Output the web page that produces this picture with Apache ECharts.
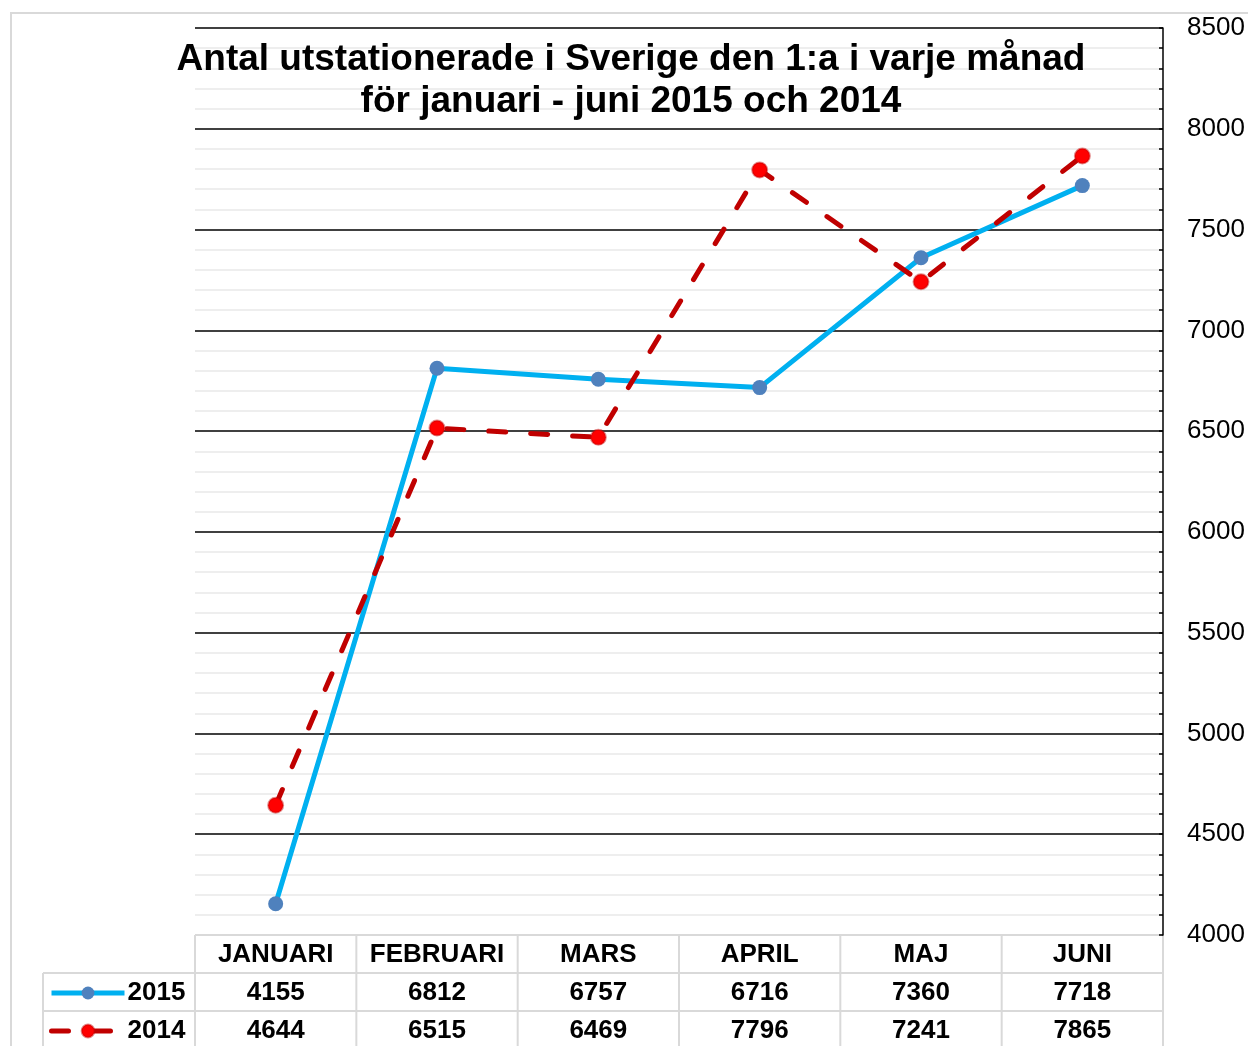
<!DOCTYPE html>
<html>
<head>
<meta charset="utf-8">
<script src="https://cdn.jsdelivr.net/npm/echarts@6/dist/echarts.min.js"></script>
<style>
html, body { margin: 0; padding: 0; background: #fff; }
#chart { width: 1248px; height: 1046px; }
</style>
</head>
<body>
<div id="chart"></div>
<script>
// data
var months = ['JANUARI', 'FEBRUARI', 'MARS', 'APRIL', 'MAJ', 'JUNI'];
var values2015 = [4155, 6812, 6757, 6716, 7360, 7718];
var values2014 = [4644, 6515, 6469, 7796, 7241, 7865];
var seriesNames = ['2015', '2014'];

var chart = echarts.init(document.getElementById('chart'));
var font = 'Arial, "Liberation Sans", sans-serif';

function legendFor(name, y) {
    return {
        orient: 'horizontal',
        left: 44,
        top: y,
        itemWidth: 73,
        itemHeight: 16,
        itemGap: 0,
        data: [name],
        lineStyle: { width: 5 },
        textStyle: { fontFamily: font, fontSize: 26, fontWeight: 'bold', color: '#000', padding: [0, 0, 0, -2] }
    };
}

var option = {
    animation: false,
    grid: { left: 195, right: 85, top: 28, bottom: 111 },
    legend: [legendFor(seriesNames[0], 975), legendFor(seriesNames[1], 1013)],
    xAxis: {
        type: 'category',
        data: months,
        boundaryGap: true,
        axisLine: { show: false },
        axisTick: { show: false },
        axisLabel: { show: false },
        splitLine: { show: false }
    },
    yAxis: {
        type: 'value',
        position: 'right',
        min: 4000,
        max: 8500,
        interval: 500,
        axisLine: { show: true, lineStyle: { color: '#000', width: 1.5 } },
        axisTick: { show: true, inside: true, length: 4, lineStyle: { color: '#000', width: 1.5 } },
        minorTick: { show: true, splitNumber: 5, length: 4, lineStyle: { color: '#000', width: 1.5 } },
        axisLabel: { fontFamily: font, fontSize: 26, color: '#000', margin: 24, formatter: function (v) { return String(v); } },
        splitLine: { show: true, lineStyle: { color: '#000', width: 1.5 } },
        minorSplitLine: { show: true, lineStyle: { color: '#eeeeee', width: 2 } }
    },
    series: [
        {
            name: seriesNames[0],
            type: 'line',
            data: values2015,
            symbol: 'circle',
            symbolSize: 15,
            itemStyle: { color: '#4f81bd' },
            lineStyle: { color: '#00b0f0', width: 5 }
        },
        {
            name: seriesNames[1],
            type: 'line',
            data: values2014,
            symbol: 'circle',
            symbolSize: 15,
            itemStyle: { color: '#ff0000', borderColor: 'rgba(192,0,0,0.45)', borderWidth: 2 },
            lineStyle: { color: '#c00000', width: 5, type: [17, 25], cap: 'round' }
        }
    ]
};
chart.setOption(option);

// data table under the plot, built from the arrays
var tLeft = 195, tRight = 1163, tTop = 935, rowH = 38;
var cellW = (tRight - tLeft) / months.length;
var els = [];

function gridLine(x1, y1, x2, y2) {
    return { type: 'line', shape: { x1: x1, y1: y1, x2: x2, y2: y2 }, style: { stroke: '#d9d9d9', lineWidth: 2 } };
}

// outer chart border
els.push({ type: 'rect', shape: { x: 11, y: 13, width: 1400, height: 1200 }, style: { fill: null, stroke: '#d9d9d9', lineWidth: 2 }, z: -1 });

// title
els.push({
    type: 'text', x: 631, y: 39, z: 10,
    style: {
        text: 'Antal utstationerade i Sverige den 1:a i varje månad\nför januari - juni 2015 och 2014',
        font: 'bold 37px ' + font, fill: '#000', align: 'center', lineHeight: 42
    }
});

// table lines
els.push(gridLine(tLeft, tTop, tRight, tTop));
els.push(gridLine(43, tTop + rowH, tRight, tTop + rowH));
els.push(gridLine(43, tTop + 2 * rowH, tRight, tTop + 2 * rowH));
els.push(gridLine(43, tTop + rowH, 43, 1046));
for (var i = 0; i <= months.length; i++) {
    var x = tLeft + i * cellW;
    els.push(gridLine(x, tTop, x, 1046));
}

var rows = [months, values2015, values2014];
for (var r = 0; r < rows.length; r++) {
    for (var c = 0; c < months.length; c++) {
        var cx = chart.convertToPixel({ xAxisIndex: 0 }, months[c]);
        els.push({
            type: 'text', x: cx, y: tTop + r * rowH + rowH / 2 + 1, z: 10,
            style: { text: String(rows[r][c]), font: 'bold 26px ' + font, fill: '#000', align: 'center', verticalAlign: 'middle' }
        });
    }
}

chart.setOption({ graphic: { elements: els } });
</script>
</body>
</html>
